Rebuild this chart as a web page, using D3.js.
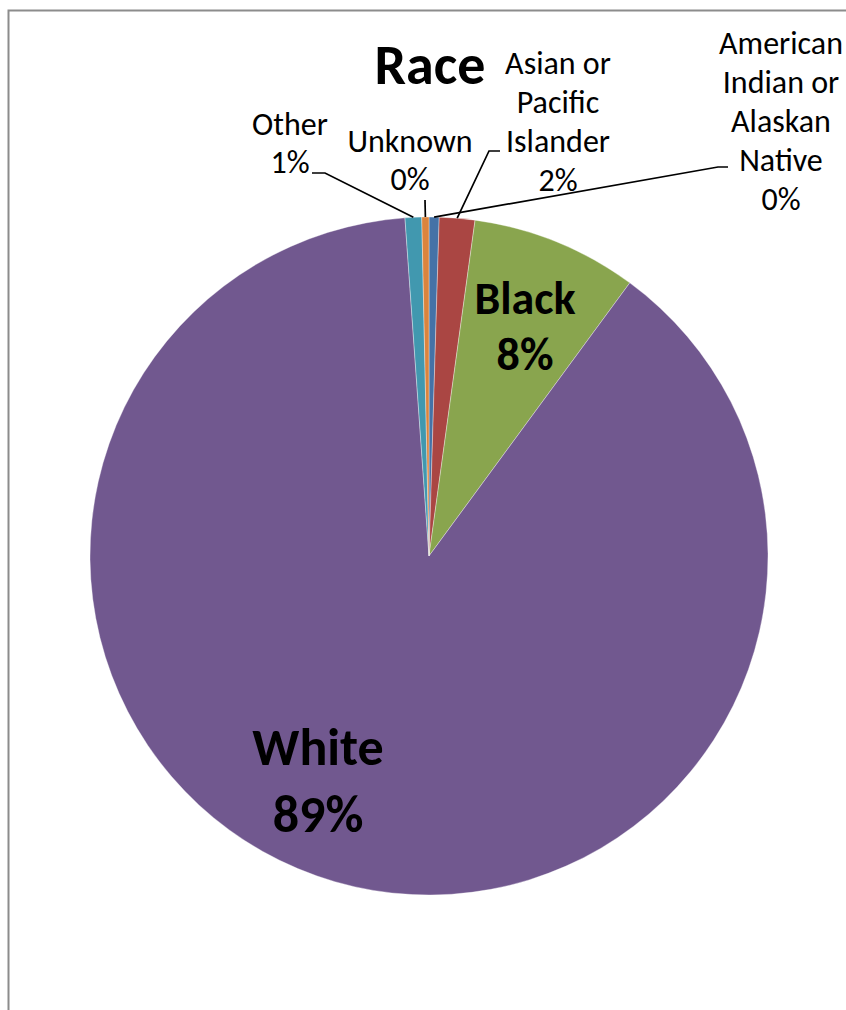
<!DOCTYPE html>
<html>
<head>
<meta charset="utf-8">
<script src="https://cdn.jsdelivr.net/npm/d3@7"></script>
<style>
  body { margin: 0; background: #fff; }
  svg { display: block; }
</style>
</head>
<body>
<script>
// data (share of total, %)
var categories = ["American Indian or Alaskan Native", "Asian or Pacific Islander", "Black", "White", "Other", "Unknown"];
var values = [0.48, 1.69, 7.92, 88.79, 0.79, 0.34];
var colors = ["#4572A7", "#AA4643", "#89A54E", "#71588F", "#4198AF", "#DB843D"];
var labelLines = [
  ["American", "Indian or", "Alaskan", "Native"],
  ["Asian or", "Pacific", "Islander"],
  ["Black"],
  ["White"],
  ["Other"],
  ["Unknown"]
];
var title = "Race";

// layout
var w = 846, h = 1010;
var cx = 429, cy = 556, r = 339;
var font = "Carlito, Calibri, Lato, sans-serif";

// where each label sits (centre x, first baseline, line step, size, bold) and its leader elbow
var labelLayout = [
  {x: 781, y: 54, step: 39, size: 32, bold: false, leader: [[728, 167], [718, 167]]},
  {x: 558, y: 74, step: 39, size: 32, bold: false, leader: [[500, 151], [489, 151]]},
  {x: 525, y: 314, step: 56, size: 46, bold: true, leader: null},
  {x: 318, y: 765, step: 67, size: 52, bold: true, leader: null},
  {x: 290, y: 135, step: 38, size: 32, bold: false, leader: [[312, 173], [325, 173]]},
  {x: 410, y: 152, step: 38, size: 32, bold: false, leader: [[425, 200]]}
];

var svg = d3.select("body")
            .append("svg")
            .attr("width", w)
            .attr("height", h);

// chart frame (runs off the right and bottom of the page)
svg.append("rect")
   .attr("x", 8.5)
   .attr("y", 10.5)
   .attr("width", 1000)
   .attr("height", 1100)
   .attr("fill", "none")
   .attr("stroke", "#8c8c8c")
   .attr("stroke-width", 2);

var total = d3.sum(values);
var pie = d3.pie().sort(null).value(function(d) { return d; });
var arcs = pie(values);

var arc = d3.arc().innerRadius(0).outerRadius(r);
var edge = d3.arc().innerRadius(r).outerRadius(r);

var g = svg.append("g").attr("transform", "translate(" + cx + "," + cy + ")");

g.selectAll("path")
 .data(arcs)
 .enter()
 .append("path")
 .attr("d", arc)
 .attr("fill", function(d, i) { return colors[i]; })
 .attr("stroke", "#ffffff")
 .attr("stroke-opacity", 0.5)
 .attr("stroke-width", 0.7);

// leader lines: elbow points then the middle of the slice's rim
arcs.forEach(function(d, i) {
  var lay = labelLayout[i];
  if (!lay.leader) return;
  var c = edge.centroid(d);
  var pts = lay.leader.concat([[cx + c[0], cy + c[1]]]);
  svg.append("path")
     .attr("d", d3.line()(pts))
     .attr("fill", "none")
     .attr("stroke", "#000")
     .attr("stroke-width", 1.7);
});

// data labels
arcs.forEach(function(d, i) {
  var lay = labelLayout[i];
  var lines = labelLines[i].concat([Math.round(d.value / total * 100) + "%"]);
  var t = svg.append("text")
             .attr("text-anchor", "middle")
             .attr("font-family", font)
             .attr("font-size", lay.size + "px")
             .attr("font-weight", lay.bold ? "bold" : "normal")
             .attr("fill", "#000");
  lines.forEach(function(s, k) {
    t.append("tspan")
     .attr("x", lay.x)
     .attr("y", lay.y + k * lay.step)
     .text(s);
  });
});

svg.append("text")
   .attr("x", 430)
   .attr("y", 84)
   .attr("text-anchor", "middle")
   .attr("font-family", font)
   .attr("font-size", "56px")
   .attr("font-weight", "bold")
   .attr("fill", "#000")
   .text(title);
</script>
</body>
</html>
